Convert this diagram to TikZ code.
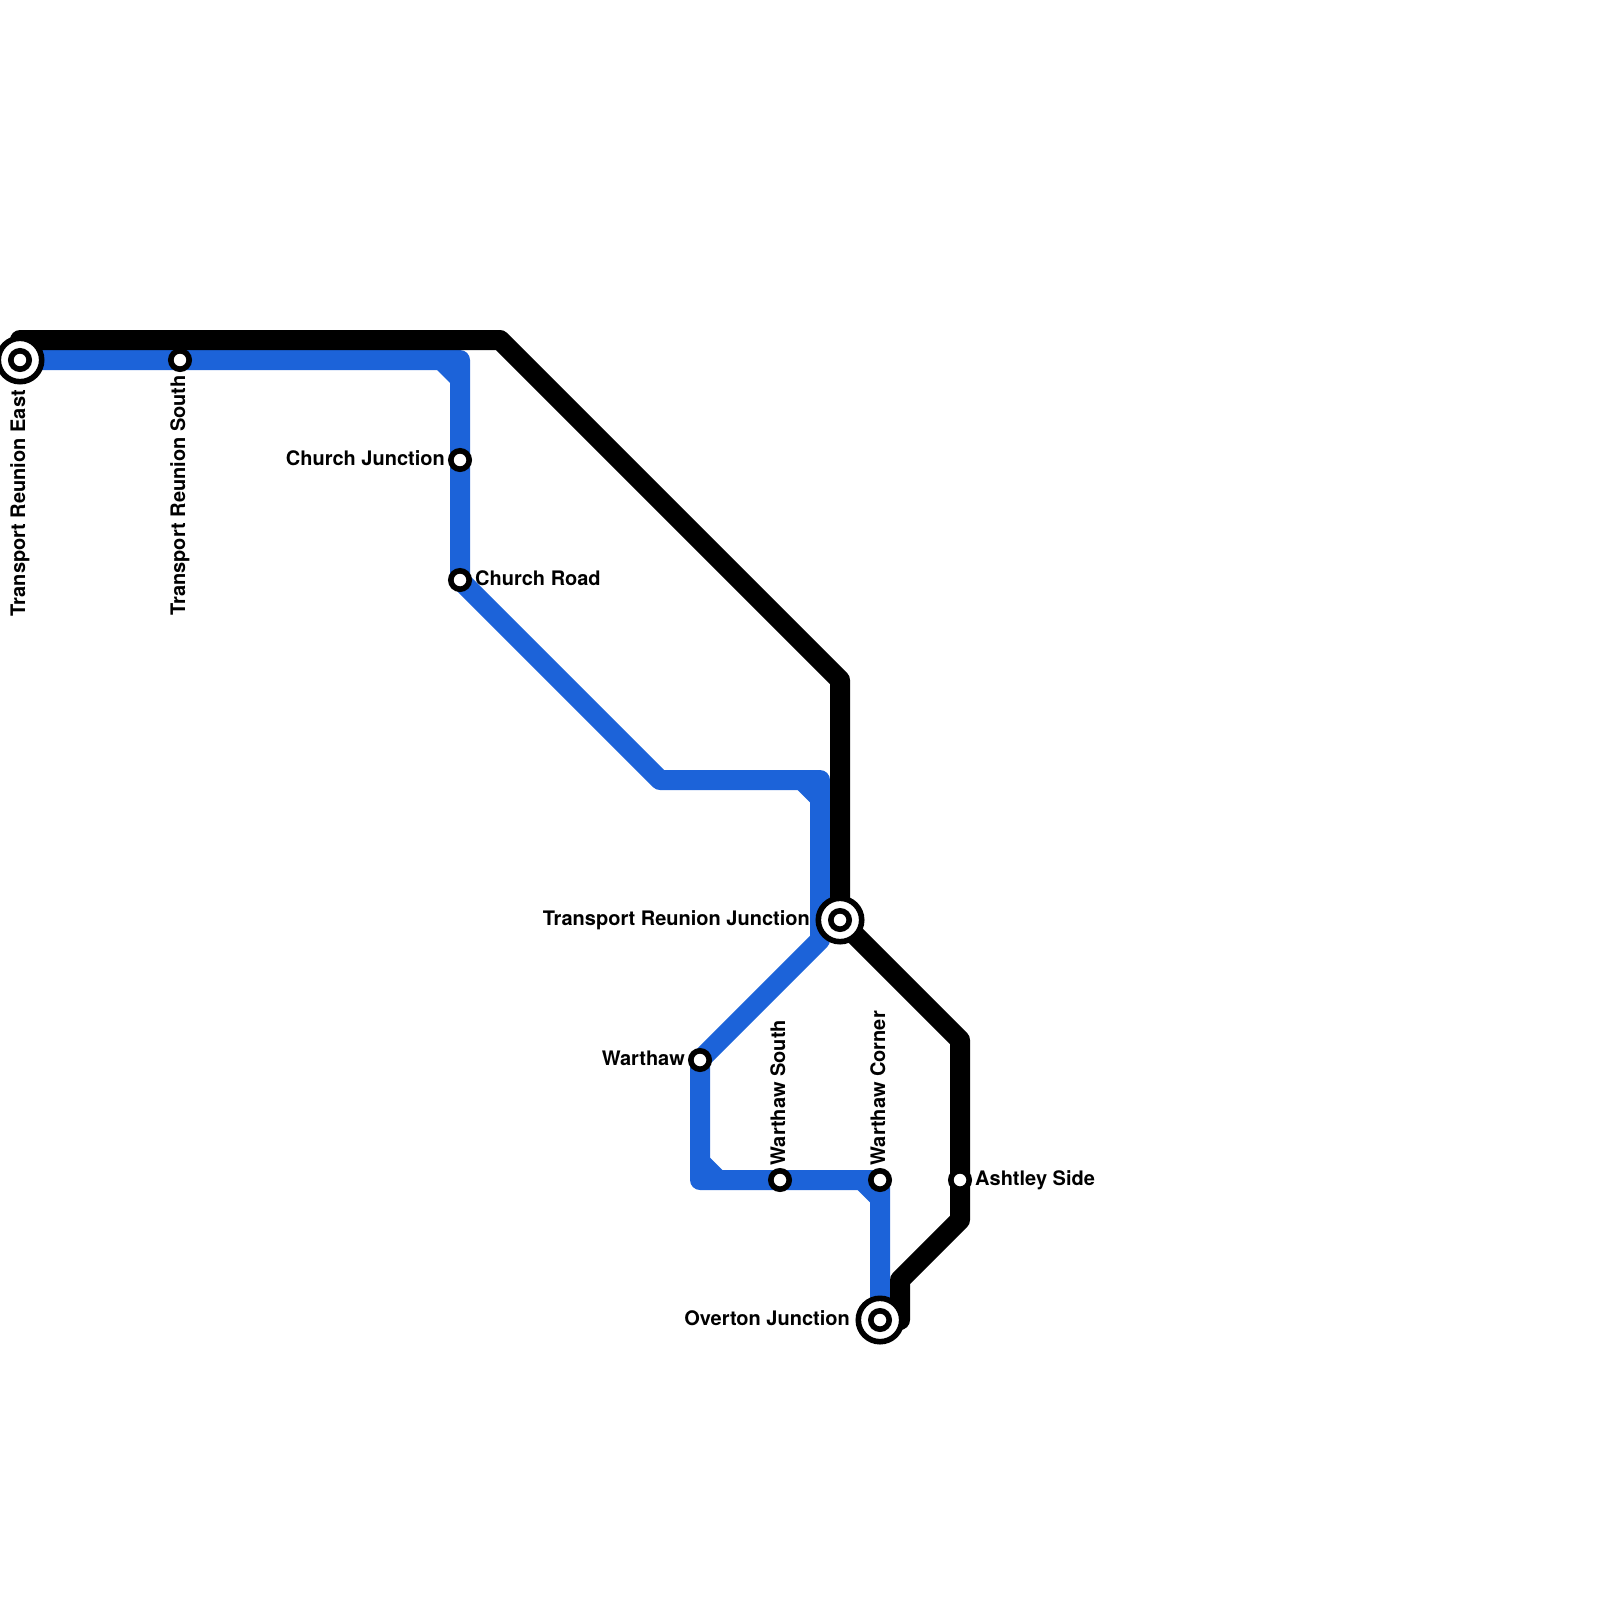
\documentclass[tikz,border=0pt]{standalone}
\usepackage{fontspec}
\setmainfont{TeX Gyre Heros}
\definecolor{lineblue}{HTML}{1C63D9}
\tikzset{
  blueline/.style={draw=lineblue,line width=20pt,line join=round,line cap=round},
  blackline/.style={draw=black,line width=20pt,line join=round,line cap=round},
  chamfer/.style={fill=lineblue,draw=none},
  stn/.style={circle,draw=black,fill=white,line width=5.6pt,minimum size=18.4pt,inner sep=0pt,outer sep=0pt},
  hub/.style={circle,draw=black,fill=white,line width=5.6pt,minimum size=43.4pt,inner sep=0pt,outer sep=0pt},
  lab/.style={font=\bfseries\fontsize{20}{24}\selectfont,inner sep=0pt,text=black},
}
\begin{document}
\begin{tikzpicture}[x=1pt,y=-1pt]
\useasboundingbox (0,0) rectangle (1600,1600);
\clip (0,0) rectangle (1600,1600);
% bends
\coordinate (k0) at (20,340);
\coordinate (k1) at (500,340);
\coordinate (k2) at (840,680);
\coordinate (k3) at (960,1040);
\coordinate (k4) at (960,1220);
\coordinate (k5) at (900,1280);
\coordinate (k6) at (900,1320);
\coordinate (b1) at (460,360);
\coordinate (b2) at (660,780);
\coordinate (b3) at (820,780);
\coordinate (b4) at (820,940);
\coordinate (b5) at (700,1180);
% station positions
\coordinate (pEast) at (20,360);
\coordinate (pSouth) at (180,360);
\coordinate (pCJ) at (460,460);
\coordinate (pCR) at (460,580);
\coordinate (pTRJ) at (840,920);
\coordinate (pW) at (700,1060);
\coordinate (pWS) at (780,1180);
\coordinate (pWC) at (880,1180);
\coordinate (pAS) at (960,1180);
\coordinate (pOJ) at (880,1320);
% blue line
\draw[blueline] (pEast) -- (pSouth) -- (b1) -- (pCJ) -- (pCR) -- (b2) -- (b3) -- (b4) -- (pW) -- (b5) -- (pWS) -- (pWC) -- (pOJ);
\fill[chamfer] (436,369) -- (451,369) -- (451,384) -- cycle;
\fill[chamfer] (796.7,789) -- (811,789) -- (811,803.3) -- cycle;
\fill[chamfer] (709,1156.7) -- (709,1171) -- (723.3,1171) -- cycle;
\fill[chamfer] (856.7,1189) -- (871,1189) -- (871,1203.3) -- cycle;
% black line
\draw[blackline] (k0) -- (k1) -- (k2) -- (pTRJ) -- (k3) -- (pAS) -- (k4) -- (k5) -- (k6);
% stations
\node[hub] (sEast) at (pEast) {};
\node[hub] (sTRJ) at (pTRJ) {};
\node[hub] (sOJ) at (pOJ) {};
\node[stn] (iEast) at (pEast) {};
\node[stn] (iTRJ) at (pTRJ) {};
\node[stn] (iOJ) at (pOJ) {};
\node[stn] (sSouth) at (pSouth) {};
\node[stn] (sCJ) at (pCJ) {};
\node[stn] (sCR) at (pCR) {};
\node[stn] (sW) at (pW) {};
\node[stn] (sWS) at (pWS) {};
\node[stn] (sWC) at (pWC) {};
\node[stn] (sAS) at (pAS) {};
% labels
\node[lab,rotate=90,anchor=base east] (lEast) at (25,390) {Transport Reunion East};
\node[lab,rotate=90,anchor=base east] (lSouth) at (185,375) {Transport Reunion South};
\node[lab,anchor=base east] (lCJ) at (445,465) {Church Junction};
\node[lab,anchor=base west] (lCR) at (475,585) {Church Road};
\node[lab,anchor=base east] (lTRJ) at (810,925) {Transport Reunion Junction};
\node[lab,anchor=base east] (lW) at (685,1065) {Warthaw};
\node[lab,rotate=90,anchor=base west] (lWS) at (785,1165.5) {Warthaw South};
\node[lab,rotate=90,anchor=base west] (lWC) at (885,1165.5) {Warthaw Corner};
\node[lab,anchor=base west] (lAS) at (975,1185) {Ashtley Side};
\node[lab,anchor=base east] (lOJ) at (850,1325) {Overton Junction};
\end{tikzpicture}
\end{document}
